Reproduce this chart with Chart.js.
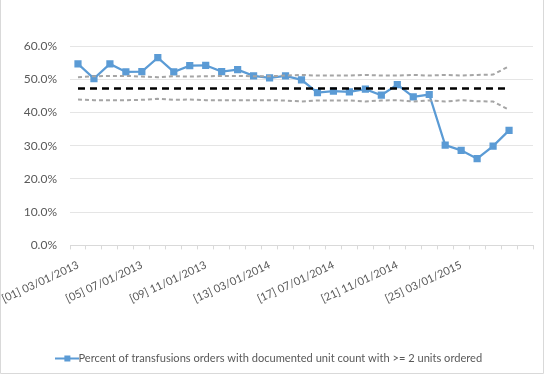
<!DOCTYPE html>
<html>
<head>
<meta charset="utf-8">
<script src="https://cdn.jsdelivr.net/npm/chart.js@4/dist/chart.umd.min.js"></script>
<style>
html,body{margin:0;padding:0;background:#fff;}
#wrap{width:544px;height:374px;position:relative;}
</style>
</head>
<body>
<div id="wrap"><canvas id="c" width="544" height="374"></canvas></div>
<script>
const categories = [
  "[01] 03/01/2013","[02] 04/01/2013","[03] 05/01/2013","[04] 06/01/2013",
  "[05] 07/01/2013","[06] 08/01/2013","[07] 09/01/2013","[08] 10/01/2013",
  "[09] 11/01/2013","[10] 12/01/2013","[11] 01/01/2014","[12] 02/01/2014",
  "[13] 03/01/2014","[14] 04/01/2014","[15] 05/01/2014","[16] 06/01/2014",
  "[17] 07/01/2014","[18] 08/01/2014","[19] 09/01/2014","[20] 10/01/2014",
  "[21] 11/01/2014","[22] 12/01/2014","[23] 01/01/2015","[24] 02/01/2015",
  "[25] 03/01/2015","[26] 04/01/2015","[27] 05/01/2015","[28] 06/01/2015",
  ""
];
const percentValues = [
  54.6, 50.2, 54.6, 52.2, 52.3, 56.5, 52.2, 54.1, 54.2, 52.3,
  52.9, 51.0, 50.4, 51.0, 49.8, 46.0, 46.4, 46.2, 47.0, 45.2,
  48.4, 44.7, 45.4, 30.2, 28.6, 26.1, 29.9, 34.6
];
const meanValues = [
  47.2, 47.2, 47.2, 47.2, 47.2, 47.2, 47.2, 47.2, 47.2, 47.2,
  47.2, 47.2, 47.2, 47.2, 47.2, 47.2, 47.2, 47.2, 47.2, 47.2,
  47.2, 47.2, 47.2, 47.2, 47.2, 47.2, 47.2, 47.2
];
const upperLimit = [
  50.6, 50.9, 51.0, 51.0, 50.8, 50.6, 50.9, 50.8, 50.9, 51.0,
  51.0, 50.9, 50.9, 51.1, 51.3, 51.1, 51.1, 51.1, 51.3, 51.1,
  51.1, 51.3, 51.1, 51.3, 51.1, 51.3, 51.4, 53.9
];
const lowerLimit = [
  43.9, 43.7, 43.7, 43.7, 43.8, 44.1, 43.8, 43.9, 43.7, 43.7,
  43.7, 43.7, 43.7, 43.6, 43.3, 43.6, 43.6, 43.6, 43.3, 43.6,
  43.7, 43.3, 43.6, 43.3, 43.7, 43.4, 43.3, 40.8
];
const yTicks = [0, 10, 20, 30, 40, 50, 60];
const seriesName = "Percent of transfusions orders with documented unit count with >= 2 units ordered";

const FONT = "Lato, 'Open Sans', sans-serif";
const BLUE = "#5B9BD5";

// legend icon: line with square marker
const icon = document.createElement('canvas');
icon.width = 24; icon.height = 10;
(function(){
  const g = icon.getContext('2d');
  g.strokeStyle = BLUE; g.lineWidth = 2;
  g.beginPath(); g.moveTo(0,5); g.lineTo(24,5); g.stroke();
  g.fillStyle = BLUE; g.fillRect(9,2,6,6);
})();

const borderPlugin = {
  id: 'outerBorder',
  afterDraw(chart){
    const ctx = chart.ctx;
    ctx.save();
    ctx.strokeStyle = '#D9D9D9';
    ctx.lineWidth = 1;
    ctx.beginPath();
    ctx.moveTo(0.5, 0); ctx.lineTo(0.5, 373.5); ctx.lineTo(543.5, 373.5); ctx.lineTo(543.5, 0);
    ctx.stroke();
    ctx.restore();
  }
};

new Chart(document.getElementById('c'), {
  type: 'line',
  data: {
    labels: categories,
    datasets: [
      {
        label: 'UCL', data: upperLimit, borderColor: '#A5A5A5', borderWidth: 2,
        borderDash: [4, 3], pointRadius: 0, fill: false, tension: 0
      },
      {
        label: 'LCL', data: lowerLimit, borderColor: '#A5A5A5', borderWidth: 2,
        borderDash: [4, 3], pointRadius: 0, fill: false, tension: 0
      },
      {
        label: 'Mean', data: meanValues, borderColor: '#000000', borderWidth: 2.5,
        borderDash: [7, 5], pointRadius: 0, fill: false, tension: 0
      },
      {
        label: seriesName, data: percentValues, borderColor: BLUE, backgroundColor: BLUE,
        borderWidth: 2.25, pointStyle: 'rect', pointRadius: 3.5, pointHoverRadius: 3.5,
        fill: false, tension: 0
      }
    ]
  },
  options: {
    responsive: false,
    animation: false,
    devicePixelRatio: 1,
    layout: { padding: { top: 46, right: 11, bottom: 0, left: 11 } },
    plugins: {
      tooltip: { enabled: false },
      legend: {
        position: 'bottom',
        labels: {
          filter: (item) => item.datasetIndex === 3,
          usePointStyle: true,
          pointStyle: icon,
          color: '#595959',
          font: { family: FONT, size: 11.1 },
          padding: 11
        }
      }
    },
    scales: {
      x: {
        offset: true,
        grid: {
          display: true, drawOnChartArea: false, offset: true,
          color: '#D9D9D9', tickLength: 4, tickColor: '#D9D9D9'
        },
        border: { display: true, color: '#D9D9D9' },
        ticks: {
          autoSkip: false, minRotation: 25, maxRotation: 25, padding: 9,
          color: '#595959', font: { family: FONT, size: 11 },
          callback: function(v, i){ return (i % 4 === 0) ? categories[i] : ''; }
        },
        afterFit: (s) => { s.height = 96.5; s.paddingLeft = 0; s.paddingRight = 0; }
      },
      y: {
        min: 0, max: 60,
        afterBuildTicks: (s) => { s.ticks = yTicks.map(v => ({ value: v })); },
        grid: { color: '#E5E5E5', drawTicks: false },
        border: { display: false },
        ticks: {
          color: '#595959', font: { family: FONT, size: 12 }, padding: 13,
          callback: (v) => v.toFixed(1) + '%'
        },
        afterFit: (s) => { s.width = 59; }
      }
    }
  },
  plugins: [borderPlugin]
});
</script>
</body>
</html>
